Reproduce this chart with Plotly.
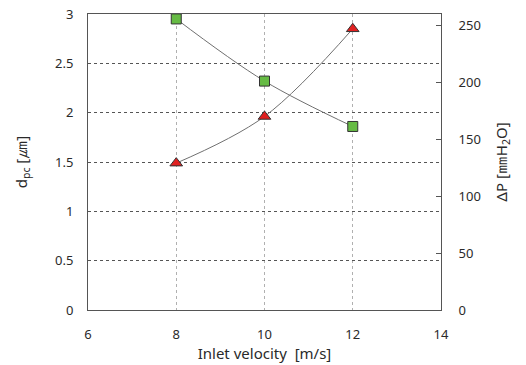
import plotly.graph_objects as go

velocity = [8, 10, 12]
dpc = [2.95, 2.32, 1.86]
dp = [129, 170, 247]

x_ticks = [6, 8, 10, 12, 14]
y1_ticks = [0, 0.5, 1, 1.5, 2, 2.5, 3]
y1_labels = ["0", "0.5", "1", "1.5", "2", "2.5", "3"]
y2_ticks = [0, 50, 100, 150, 200, 250]

font = "Noto Sans, DejaVu Sans, sans-serif"
fig = go.Figure()
fig.add_trace(go.Scatter(
    x=velocity, y=dpc, mode="lines+markers", line=dict(color="#707070", width=1, shape="spline"),
    marker=dict(symbol="square", size=10, color="#66bb44", line=dict(color="#333333", width=1)),
    yaxis="y", showlegend=False))
fig.add_trace(go.Scatter(
    x=velocity, y=dp, mode="lines+markers", line=dict(color="#707070", width=1, shape="spline"),
    marker=dict(symbol="triangle-up", size=11, color="#e02020", line=dict(color="#333333", width=1)),
    yaxis="y2", showlegend=False))

fig.update_layout(
    width=526, height=365,
    margin=dict(l=88, r=85, t=14, b=55),
    paper_bgcolor="white", plot_bgcolor="white",
    font=dict(family=font, size=13, color="#2a2a2a"),
    xaxis=dict(range=[6, 14], tickvals=x_ticks, showgrid=True, gridcolor="#b0b0b0", griddash="dot",
               gridwidth=1, zeroline=False, showline=True, linecolor="#555555", linewidth=1, mirror=True,
               ticks="", ticklabelstandoff=12, automargin=False,
               title=dict(text="Inlet velocity  [m/s]", font=dict(size=15), standoff=4)),
    yaxis=dict(range=[0, 3], tickvals=y1_ticks, ticktext=y1_labels, showgrid=True, gridcolor="#555555",
               griddash="dot", gridwidth=1, zeroline=False, showline=True, linecolor="#555555", linewidth=1,
               ticks="", ticklabelstandoff=11, automargin=False,
               title=dict(text="d<sub>pc</sub> [<span style='font-size:18px'>㎛</span>]", font=dict(size=15), standoff=23)),
    yaxis2=dict(range=[0, 260], tickvals=y2_ticks, overlaying="y", side="right", showgrid=False,
                zeroline=False, showline=True, linecolor="#555555", linewidth=1, automargin=False,
                ticks="inside", ticklen=5, tickcolor="#555555", ticklabelstandoff=14,
                title=dict(text="ΔP [<span style='font-size:18px'>㎜</span>H<sub>2</sub>O]", font=dict(size=15), standoff=16)),
)
fig.write_html("out.html", config={"displayModeBar": False},
               post_script="document.body.style.margin='0';document.body.style.overflow='hidden';")
